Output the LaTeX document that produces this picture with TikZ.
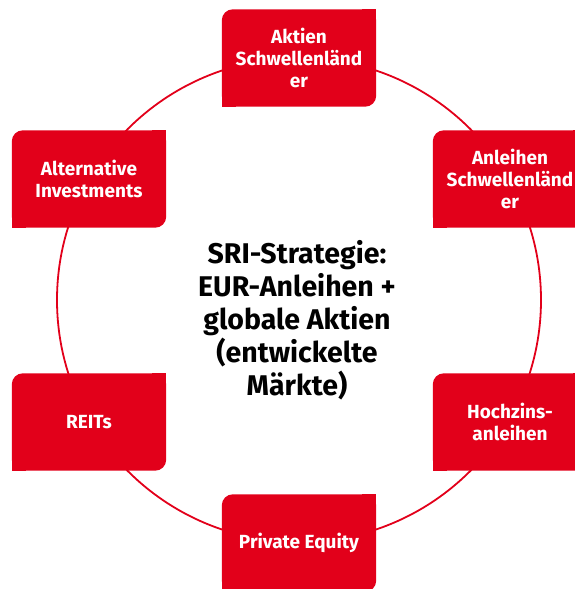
\documentclass[tikz,border=0pt]{standalone}
\usepackage{fontspec}
\setmainfont{Fira Sans}
\usetikzlibrary{backgrounds}
\definecolor{brandred}{RGB}{226,0,26}
\tikzset{
  x=1pt, y=1pt,
  segbox/.style={minimum width=154pt, minimum height=97pt, inner sep=2pt,
    text=white, align=center, font=\bfseries\fontsize{19}{22}\selectfont},
  hub/.style={align=center, text=black, font=\bfseries\fontsize{28.5}{33}\selectfont},
  ring/.style={draw=brandred, line width=1.8pt},
}
\newcommand{\leafshape}[1]{%
  \fill[brandred, rounded corners=11pt] (#1.north west) rectangle (#1.south east);
  \fill[brandred] (#1.north east) rectangle ++(-14,-14);
  \fill[brandred] (#1.south west) rectangle ++(14,14);
}
\begin{document}
\begin{tikzpicture}
\useasboundingbox (0,0) rectangle (575,-589);
\clip (0,0) rectangle (575,-589);
\coordinate (c) at (299,-300);

\node[hub] (center) at (297,-320) {SRI-Strategie:\\EUR-Anleihen +\\globale Aktien\\(entwickelte\\Märkte)};

\node[segbox] (ae) at (299,-58)  {Aktien\\Schwellenländ\\er};
\node[segbox] (as) at (510,-179) {Anleihen\\Schwellenländ\\er};
\node[segbox] (hz) at (510,-422) {Hochzins-\\anleihen};
\node[segbox] (pe) at (299,-543) {Private Equity};
\node[segbox] (re) at (89,-422)  {REITs};
\node[segbox] (ai) at (89,-179)  {Alternative\\Investments};

\begin{scope}[on background layer]
  \draw[ring] (c) circle (242);
  \foreach \n in {ae,as,hz,pe,re,ai} {\leafshape{\n}}
\end{scope}
\end{tikzpicture}
\end{document}
